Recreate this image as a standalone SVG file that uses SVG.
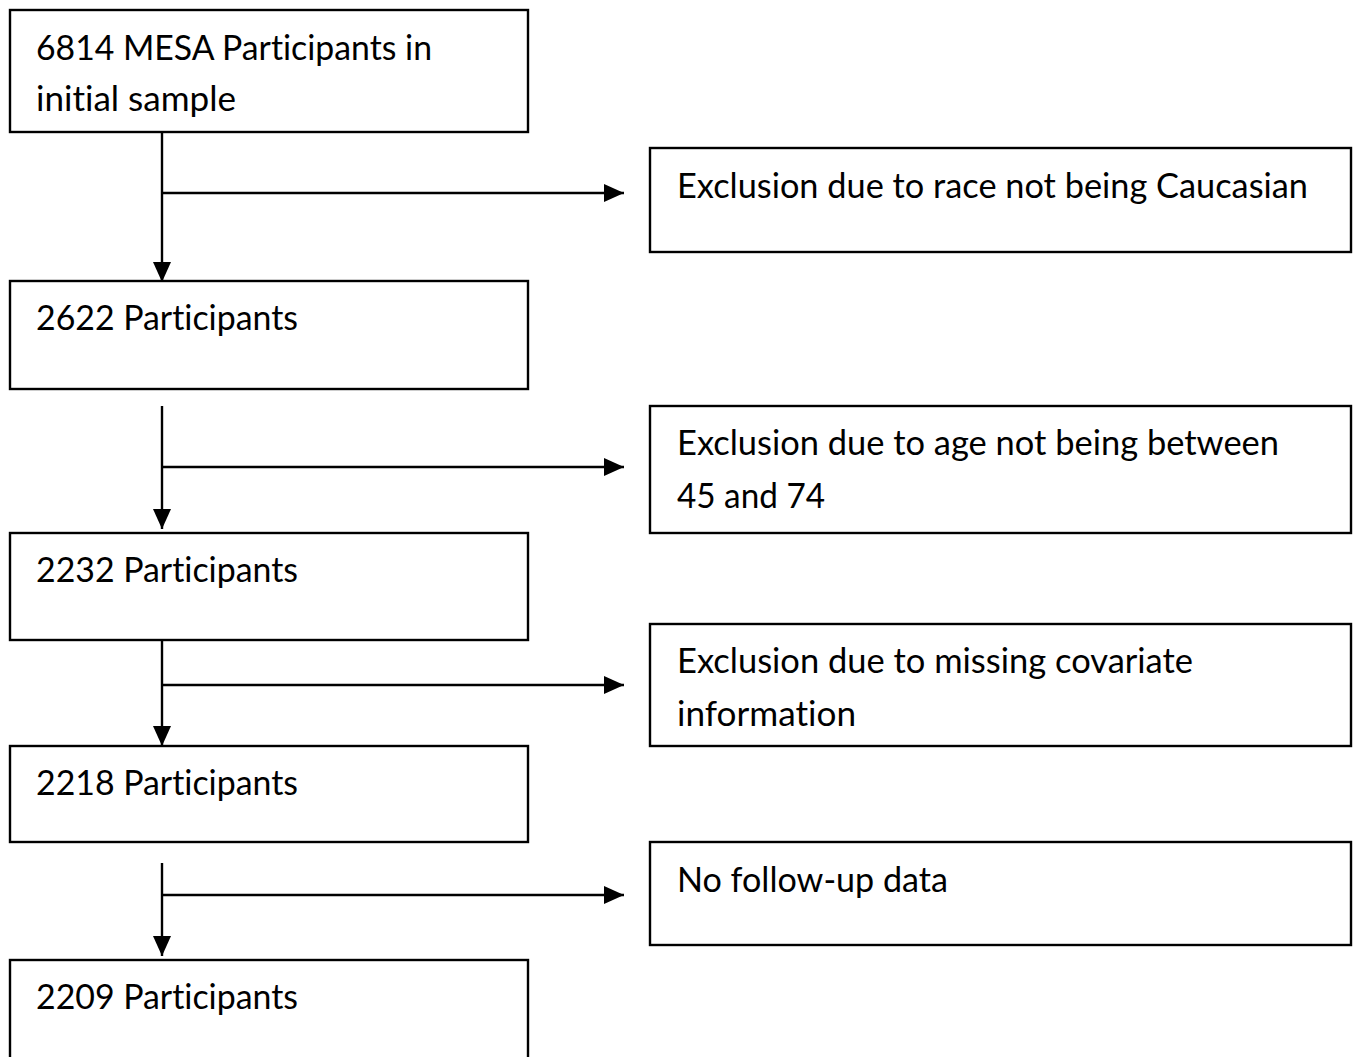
<svg xmlns="http://www.w3.org/2000/svg" width="1358" height="1057" viewBox="0 0 1358 1057">
<defs>
<style>
.box{fill:#fff;stroke:#000;stroke-width:2.4}
.t{font-family:Lato,"Open Sans","Liberation Sans",sans-serif;font-size:35px;fill:#000;font-variant-ligatures:none;font-feature-settings:"liga" 0,"clig" 0}
.ln{stroke:#000;stroke-width:2.4;fill:none}
</style>
<marker id="ah" viewBox="0 0 20 18" refX="20" refY="9" markerWidth="20" markerHeight="18" markerUnits="userSpaceOnUse" orient="auto">
<path d="M0,0 L20,9 L0,18 Z" fill="#000"/>
</marker>
</defs>
<rect width="1358" height="1057" fill="#fff"/>
<g id="connectors">
<line class="ln" x1="162" y1="132" x2="162" y2="282" marker-end="url(#ah)"/>
<line class="ln" x1="162" y1="193" x2="624" y2="193" marker-end="url(#ah)"/>
<line class="ln" x1="162" y1="406" x2="162" y2="529" marker-end="url(#ah)"/>
<line class="ln" x1="162" y1="467" x2="624" y2="467" marker-end="url(#ah)"/>
<line class="ln" x1="162" y1="624" x2="162" y2="746" marker-end="url(#ah)"/>
<line class="ln" x1="162" y1="685" x2="624" y2="685" marker-end="url(#ah)"/>
<line class="ln" x1="162" y1="863" x2="162" y2="956" marker-end="url(#ah)"/>
<line class="ln" x1="162" y1="895" x2="624" y2="895" marker-end="url(#ah)"/>
</g>
<g id="n1"><rect class="box" x="10" y="10" width="518" height="122"/>
<text class="t" x="36" y="60" textLength="396" lengthAdjust="spacingAndGlyphs">6814 MESA Participants in</text>
<text class="t" x="36" y="111" textLength="200" lengthAdjust="spacingAndGlyphs">initial sample</text></g>
<g id="n2"><rect class="box" x="10" y="281" width="518" height="108"/>
<text class="t" x="36" y="330" textLength="262" lengthAdjust="spacingAndGlyphs">2622 Participants</text></g>
<g id="n3"><rect class="box" x="10" y="533" width="518" height="107"/>
<text class="t" x="36" y="582" textLength="262" lengthAdjust="spacingAndGlyphs">2232 Participants</text></g>
<g id="n4"><rect class="box" x="10" y="746" width="518" height="96"/>
<text class="t" x="36" y="795" textLength="262" lengthAdjust="spacingAndGlyphs">2218 Participants</text></g>
<g id="n5"><rect class="box" x="10" y="960" width="518" height="110"/>
<text class="t" x="36" y="1009" textLength="262" lengthAdjust="spacingAndGlyphs">2209 Participants</text></g>
<g id="e1"><rect class="box" x="650" y="148" width="701" height="104"/>
<text class="t" x="677" y="198" textLength="631" lengthAdjust="spacingAndGlyphs">Exclusion due to race not being Caucasian</text></g>
<g id="e2"><rect class="box" x="650" y="406" width="701" height="127"/>
<text class="t" x="677" y="455" textLength="602" lengthAdjust="spacingAndGlyphs">Exclusion due to age not being between</text>
<text class="t" x="677" y="508" textLength="148" lengthAdjust="spacingAndGlyphs">45 and 74</text></g>
<g id="e3"><rect class="box" x="650" y="624" width="701" height="122"/>
<text class="t" x="677" y="673" textLength="516" lengthAdjust="spacingAndGlyphs">Exclusion due to missing covariate</text>
<text class="t" x="677" y="726" textLength="179" lengthAdjust="spacingAndGlyphs">information</text></g>
<g id="e4"><rect class="box" x="650" y="842" width="701" height="103"/>
<text class="t" x="677" y="892" textLength="271" lengthAdjust="spacingAndGlyphs">No follow-up data</text></g>
</svg>
